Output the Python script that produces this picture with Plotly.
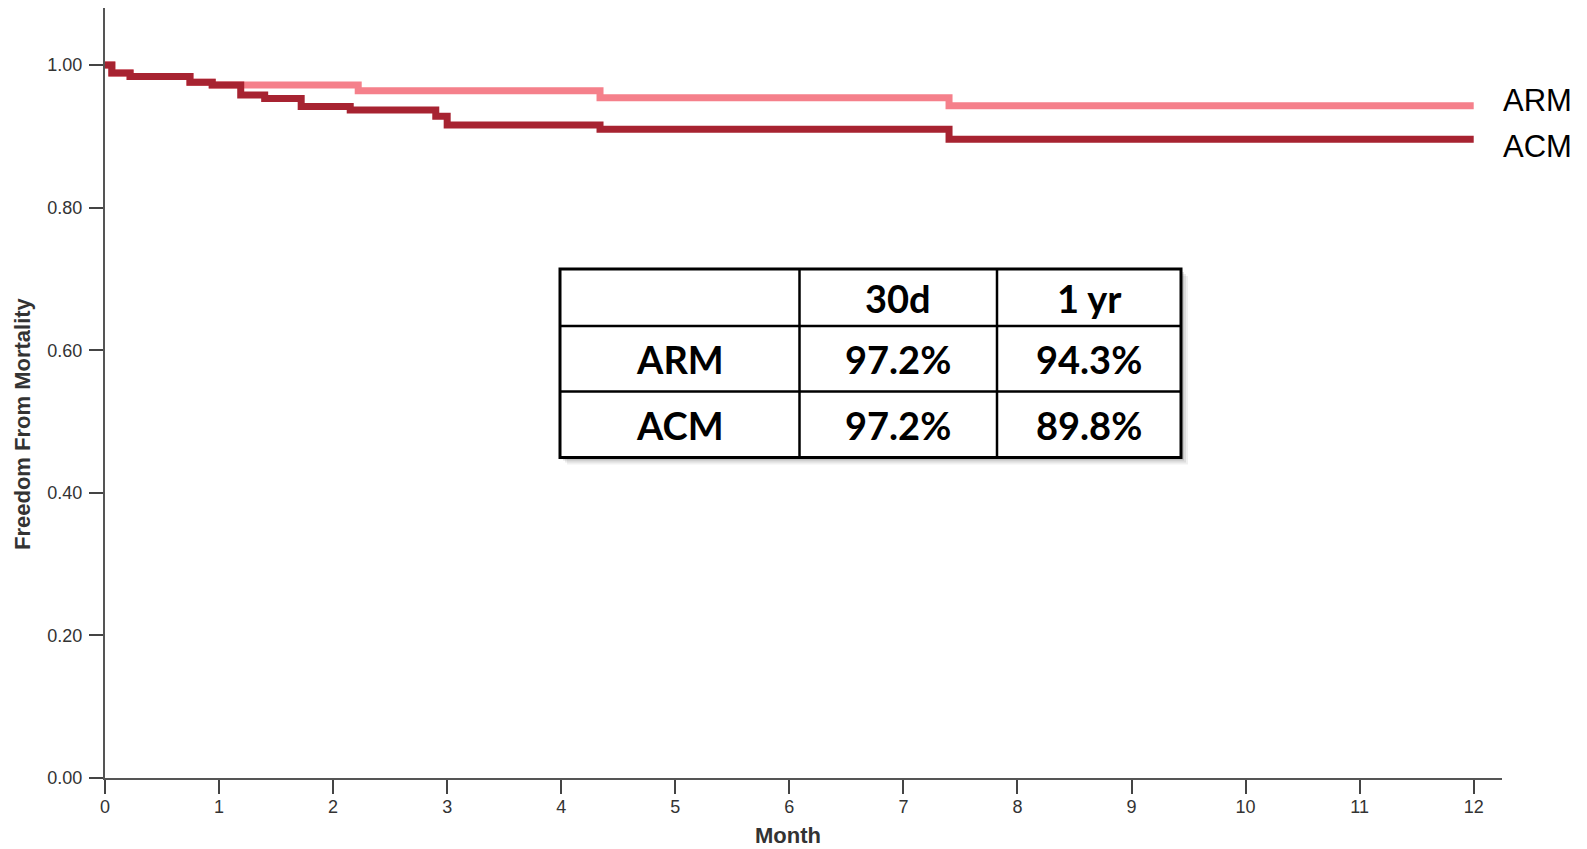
import plotly.graph_objects as go

# ---- data ----
arm_months = [0, 0.06, 0.22, 0.745, 0.94, 2.22, 4.34, 7.40, 12]
arm_surv = [1.000, 0.989, 0.984, 0.976, 0.972, 0.964, 0.954, 0.943, 0.943]

acm_months = [0, 0.06, 0.22, 0.745, 0.94, 1.19, 1.40, 1.72, 2.15, 2.90, 3.00, 4.34, 7.40, 12]
acm_surv = [1.000, 0.989, 0.984, 0.976, 0.972, 0.958, 0.953, 0.942, 0.937, 0.928, 0.916, 0.910, 0.896, 0.896]

table_header = ["", "30d", "1 yr"]
table_rows = [["ARM", "97.2%", "94.3%"],
              ["ACM", "97.2%", "89.8%"]]

x_ticks = list(range(0, 13))
y_ticks = [0.0, 0.2, 0.4, 0.6, 0.8, 1.0]

ARM_COLOR = "#F5808B"
ACM_COLOR = "#A72331"

W, H = 1587, 849
ML, MR, MT, MB = 105, 85, 8, 71
PW = W - ML - MR
PH = H - MT - MB


def px(x):
    return (x - ML) / PW


def py(y):
    return (H - MB - y) / PH


fig = go.Figure()
fig.add_trace(go.Scatter(x=arm_months, y=arm_surv, mode="lines", name="ARM",
                         line=dict(color=ARM_COLOR, width=7, shape="hv"),
                         showlegend=False, hoverinfo="x+y"))
fig.add_trace(go.Scatter(x=acm_months, y=acm_surv, mode="lines", name="ACM",
                         line=dict(color=ACM_COLOR, width=7, shape="hv"),
                         showlegend=False, hoverinfo="x+y"))

axis_font = dict(family="Liberation Sans, Arial, sans-serif", size=18, color="#333333")

fig.update_xaxes(range=[0, 12.248], tickvals=x_ticks, ticktext=[str(v) for v in x_ticks],
                 showgrid=False, zeroline=False, showline=True, linecolor="#555555", linewidth=2,
                 ticks="outside", ticklen=14, tickwidth=2, tickcolor="#444444",
                 tickfont=axis_font, ticklabelstandoff=-3)
fig.update_yaxes(range=[0, 1.08], tickvals=y_ticks, ticktext=[f"{v:.2f}" for v in y_ticks],
                 showgrid=False, zeroline=False, showline=True, linecolor="#555555", linewidth=2,
                 ticks="outside", ticklen=14, tickwidth=2, tickcolor="#444444",
                 tickfont=axis_font, ticklabelstandoff=3)

annotations = []
title_font = dict(family="Liberation Sans, Arial, sans-serif", size=22, color="#333333")
annotations.append(dict(text="<b>Month</b>", x=px(788), y=py(836), xref="paper", yref="paper",
                        xanchor="center", yanchor="middle", showarrow=False, font=title_font))
annotations.append(dict(text="<b>Freedom From Mortality</b>", x=px(23), y=py(424), xref="paper", yref="paper",
                        xanchor="center", yanchor="middle", showarrow=False, textangle=-90,
                        font=title_font))
# series labels
label_font = dict(family="Liberation Sans, Arial, sans-serif", size=31, color="#000000")
annotations.append(dict(text="ARM", x=arm_months[-1], y=arm_surv[-1], xref="x", yref="y",
                        xanchor="left", yanchor="middle", xshift=27, yshift=5, showarrow=False,
                        font=label_font))
annotations.append(dict(text="ACM", x=acm_months[-1], y=acm_surv[-1], xref="x", yref="y",
                        xanchor="left", yanchor="middle", xshift=27, yshift=-7, showarrow=False,
                        font=label_font))

# ---- table (drawn in pixel layout, converted to paper coords) ----
tbl_left, tbl_right, tbl_top, tbl_bottom = 560, 1181, 269, 457.5
col_edges = [560, 799.5, 997, 1181]
row_edges = [269, 326, 391.5, 457.5]

shapes = []
for off, op in [(7, 0.06), (5, 0.08), (3, 0.12)]:
    shapes.append(dict(type="rect", xref="paper", yref="paper",
                       x0=px(tbl_left + off), x1=px(tbl_right + off),
                       y0=py(tbl_bottom + off), y1=py(tbl_top + off),
                       line=dict(width=0), fillcolor=f"rgba(0,0,0,{op})", layer="above"))
shapes.append(dict(type="rect", xref="paper", yref="paper",
                   x0=px(tbl_left), x1=px(tbl_right), y0=py(tbl_bottom), y1=py(tbl_top),
                   line=dict(color="#000000", width=3), fillcolor="#FFFFFF", layer="above"))
for cx in col_edges[1:-1]:
    shapes.append(dict(type="line", xref="paper", yref="paper",
                       x0=px(cx), x1=px(cx), y0=py(tbl_bottom), y1=py(tbl_top),
                       line=dict(color="#000000", width=2.5), layer="above"))
for ry in row_edges[1:-1]:
    shapes.append(dict(type="line", xref="paper", yref="paper",
                       x0=px(tbl_left), x1=px(tbl_right), y0=py(ry), y1=py(ry),
                       line=dict(color="#000000", width=2.5), layer="above"))

cells = [table_header] + table_rows
tfont = dict(family="Lato, Carlito, sans-serif", size=38, color="#000000")
for r, row in enumerate(cells):
    cy = (row_edges[r] + row_edges[r + 1]) / 2
    for c, txt in enumerate(row):
        if not txt:
            continue
        cx = (col_edges[c] + col_edges[c + 1]) / 2
        annotations.append(dict(text=f"<b>{txt}</b>", x=px(cx), y=py(cy), xref="paper", yref="paper",
                                xanchor="center", yanchor="middle", showarrow=False, font=tfont))

fig.update_layout(width=W, height=H, autosize=False,
                  margin=dict(l=ML, r=MR, t=MT, b=MB, pad=0),
                  paper_bgcolor="#FFFFFF", plot_bgcolor="#FFFFFF",
                  shapes=shapes, annotations=annotations, showlegend=False)

fig.write_html("out.html", config={"displayModeBar": False},
               post_script="document.body.style.margin='0';document.body.style.overflow='hidden';")
